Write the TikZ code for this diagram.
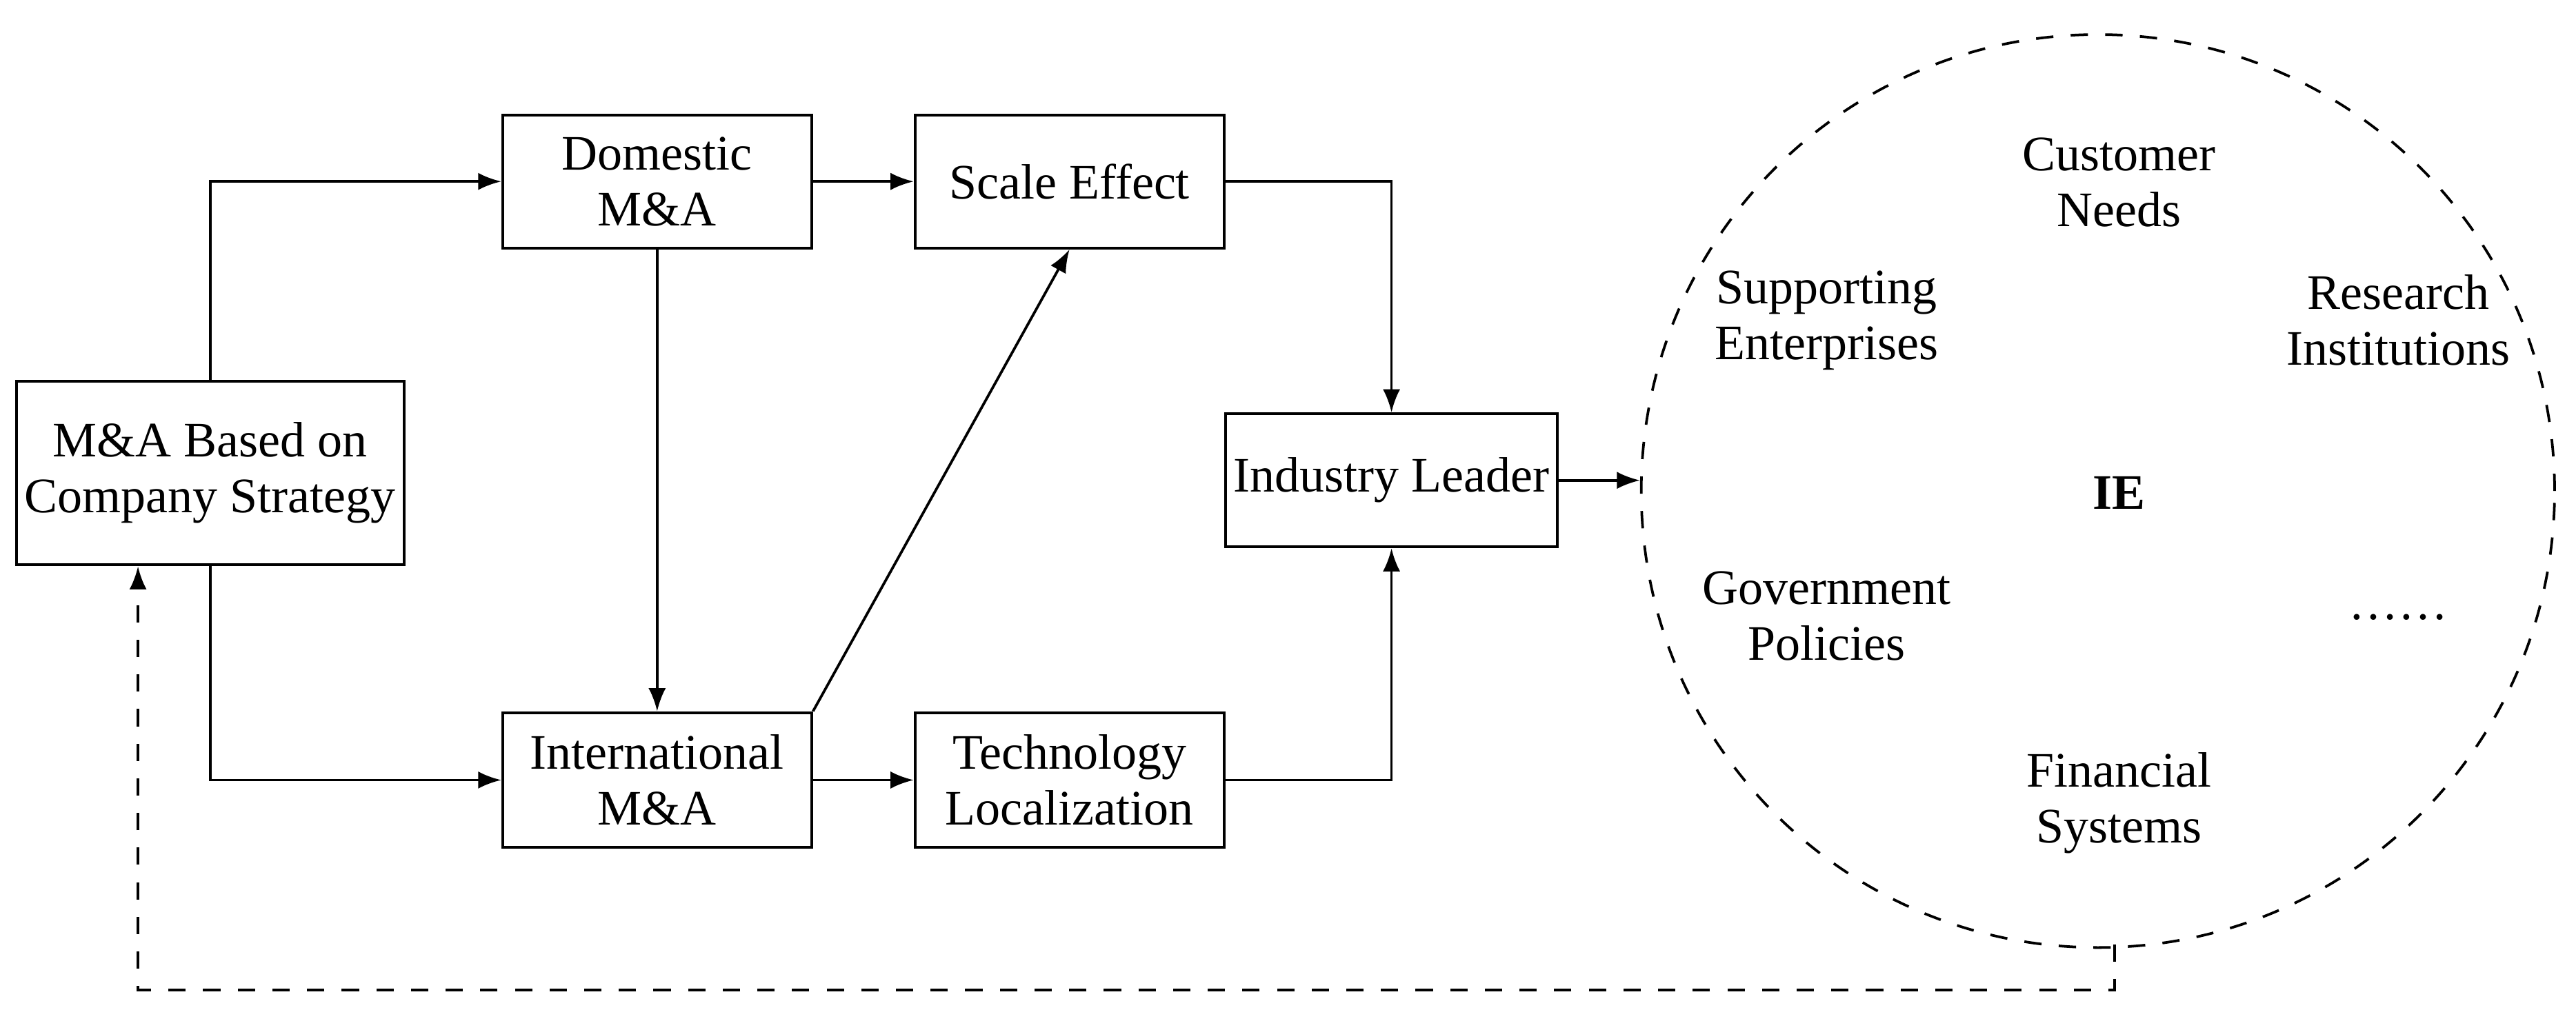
\documentclass[tikz,border=0pt]{standalone}
\usepackage{fontspec}
\setmainfont{Liberation Serif}
\usetikzlibrary{arrows.meta}
\begin{document}
\begin{tikzpicture}[x=0.1cm,y=-0.1cm,
  box/.style={draw,line width=0.5pt,inner sep=0pt,align=center,font=\fontsize{8.6}{9.7}\selectfont},
  lbl/.style={align=center,font=\fontsize{8.6}{9.7}\selectfont},
  arr/.style={-{Latex[length=4pt,width=3pt]},line width=0.45pt}]
\useasboundingbox (0,0) rectangle (156.8,61.5);
\node[box,minimum width=23.6cm/10,minimum height=11.2cm/10] (ma) at (12.8,28.8) {M\&A Based on\\Company Strategy};
\node[box,minimum width=1.88cm,minimum height=0.81cm] (dom) at (40,11.05) {Domestic\\M\&A};
\node[box,minimum width=1.88cm,minimum height=0.81cm] (sca) at (65.1,11.05) {Scale Effect};
\node[box,minimum width=2.02cm,minimum height=0.81cm] (ind) at (84.7,29.25) {Industry Leader};
\node[box,minimum width=1.88cm,minimum height=0.82cm] (int) at (40,47.5) {International\\M\&A};
\node[box,minimum width=1.88cm,minimum height=0.82cm] (tec) at (65.1,47.5) {Technology\\Localization};
\node[draw,dashed,circle,line width=0.45pt,minimum size=5.56cm,inner sep=0pt] (ie) at (127.7,29.9) {};
\node[lbl] (cn) at (129,11.1) {Customer\\Needs};
\node[lbl] (se) at (111.2,19.5) {Supporting\\Enterprises};
\node[lbl] (ri) at (146,19.5) {Research\\Institutions};
\node[lbl,font=\fontsize{8.6}{9.7}\selectfont\bfseries] (iet) at (129,30) {IE};
\node[lbl] (gp) at (111.2,37.5) {Government\\Policies};
\node[lbl] (dots) at (146,37.6) {\textellipsis\textellipsis};
\node[lbl] (fs) at (129,48.9) {Financial\\Systems};
\draw[arr] (ma.north) |- (dom.west);
\draw[arr] (ma.south) |- (int.west);
\draw[arr] (dom) -- (sca);
\draw[arr] (dom) -- (int);
\draw[arr] (int.north east) -- (sca.south);
\draw[arr] (int) -- (tec);
\draw[arr] (sca.east) -| (ind.north);
\draw[arr] (tec.east) -| (ind.south);
\draw[arr] (ind.east) -- (ie.west|-ind.east);
\coordinate (c1) at (128.7,60.3);
\coordinate (c2) at (8.4,60.3);
\draw[arr,dashed] (128.7,57.5) -- (c1) -- (c2) -- (c2|-ma.south);
\end{tikzpicture}
\end{document}
